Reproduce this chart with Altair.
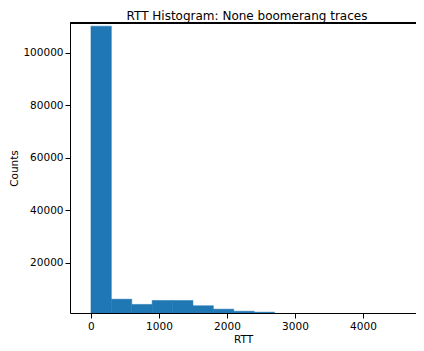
import altair as alt
import pandas as pd

# Histogram bins (RTT) and counts
bin_start = [0, 300, 600, 900, 1200, 1500, 1800, 2100, 2400, 2700, 3000, 3300, 3600, 3900, 4200, 4500]
bin_end = [300, 600, 900, 1200, 1500, 1800, 2100, 2400, 2700, 3000, 3300, 3600, 3900, 4200, 4500, 4800]
counts = [110100, 6100, 4100, 5600, 5600, 3600, 2300, 1500, 1150, 500, 300, 200, 120, 80, 40, 20]

x_ticks = [0, 1000, 2000, 3000, 4000]
y_ticks = [20000, 40000, 60000, 80000, 100000]
title_text = ["RTT Histogram: None boomerang traces"]

df = pd.DataFrame({"start": bin_start, "end": bin_end, "count": counts})
tdf = pd.DataFrame({"t": title_text})

FONT = "DejaVu Sans"
W, H = 346, 290
XDOM = [-308, 4780]
YDOM = [830, 111300]

bars = alt.Chart(df).mark_bar(color="#1f77b4", clip=True, stroke="#1f77b4", strokeWidth=0.5).encode(
    x=alt.X("start:Q", scale=alt.Scale(domain=XDOM, nice=False, zero=False),
            axis=alt.Axis(values=x_ticks, title="RTT", grid=False, format="d",
                          labelFont=FONT, labelFontSize=10.5, labelColor="black",
                          titleFont=FONT, titleFontSize=10.5, titleFontWeight="normal", titleColor="black",
                          tickColor="black", domainColor="black", tickSize=5,
                          labelPadding=3, titlePadding=3)),
    x2="end:Q",
    y=alt.Y("count:Q", scale=alt.Scale(domain=YDOM, nice=False, zero=False),
            axis=alt.Axis(values=y_ticks, title="Counts", grid=False, format="d",
                          labelFont=FONT, labelFontSize=10.5, labelColor="black",
                          titleFont=FONT, titleFontSize=10.5, titleFontWeight="normal", titleColor="black",
                          tickColor="black", domainColor="black", tickSize=5,
                          labelPadding=2, titlePadding=3)),
    y2=alt.Y2(datum=0),
)

top_rule = alt.Chart(df).mark_rule(color="black", strokeWidth=1).encode(
    x=alt.value(0), x2=alt.value(W), y=alt.value(0)
)

title = alt.Chart(tdf).mark_text(font=FONT, fontSize=12, color="black", align="center",
                                 baseline="alphabetic").encode(
    text="t:N", x=alt.value(177), y=alt.value(-3)
)

chart = (bars + top_rule + title).properties(
    width=W, height=H,
    autosize=alt.AutoSizeParams(type="none"),
    padding={"left": 62, "top": 15, "right": 0, "bottom": 35},
).configure_view(stroke=None)

chart.save("out.html", embed_options={"renderer": "svg", "actions": False})
